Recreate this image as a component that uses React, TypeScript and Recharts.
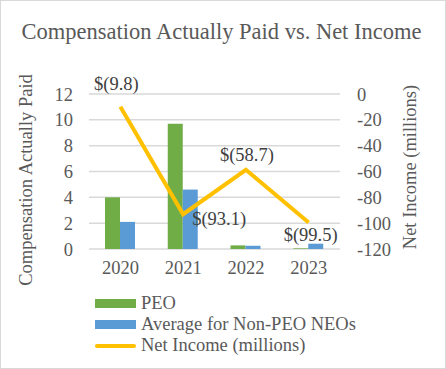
import { ComposedChart, Bar, Line, XAxis, YAxis, CartesianGrid, LabelList, Customized } from 'recharts'

// values
const years = ['2020', '2021', '2022', '2023']
const peo = [4.0, 9.7, 0.28, 0.05]
const nonPeo = [2.1, 4.6, 0.25, 0.41]
const netIncome = [-9.8, -93.1, -58.7, -99.5]
const leftTicks = [0, 2, 4, 6, 8, 10, 12]
const rightTicks = [-120, -100, -80, -60, -40, -20, 0]

// where each data label sits relative to its point
const LABEL_OFFSETS = [
  [-4, -23],
  [36, 5],
  [1, -15],
  [2, 12]
]

const GREEN = '#70AD47'
const BLUE = '#5B9BD5'
const GOLD = '#FFC000'
const TEXT = '#595959'
const FONT = '"Liberation Serif", "Times New Roman", serif'
const FS = 18.5

const data = years.map((year, i) => ({
  year,
  peo: peo[i],
  nonPeo: nonPeo[i],
  netIncome: netIncome[i]
}))

const fmtMoney = (v: number) => (v < 0 ? `$(${Math.abs(v).toFixed(1)})` : `$${v.toFixed(1)}`)

function NetIncomeLabel(props: any) {
  const { x, y, value, index } = props
  const [dx, dy] = LABEL_OFFSETS[index] || [0, -15]
  return (
    <text
      x={x + dx}
      y={y + dy}
      textAnchor="middle"
      dominantBaseline="central"
      fill="#404040"
      fontSize={FS}
      fontFamily={FONT}
    >
      {fmtMoney(value)}
    </text>
  )
}

function Titles() {
  return (
    <g fontFamily={FONT} fill={TEXT}>
      <text x={221.5} y={31} textAnchor="middle" dominantBaseline="central" fontSize={22.5}>
        Compensation Actually Paid vs. Net Income
      </text>
      <text
        x={26}
        y={180}
        textAnchor="middle"
        dominantBaseline="central"
        fontSize={FS}
        transform="rotate(-90 26 180)"
      >
        Compensation Actually Paid
      </text>
      <text
        x={410}
        y={167}
        textAnchor="middle"
        dominantBaseline="central"
        fontSize={FS}
        transform="rotate(-90 410 167)"
      >
        Net Income (millions)
      </text>
    </g>
  )
}

const legendItems = [
  { name: 'PEO', color: GREEN, kind: 'bar' },
  { name: 'Average for Non-PEO NEOs', color: BLUE, kind: 'bar' },
  { name: 'Net Income (millions)', color: GOLD, kind: 'line' }
]

function ChartLegend() {
  return (
    <div
      style={{
        position: 'absolute',
        left: 95,
        top: 293,
        fontFamily: FONT,
        fontSize: FS,
        color: TEXT,
        lineHeight: '21px'
      }}
    >
      {legendItems.map(item => (
        <div key={item.name} style={{ display: 'flex', alignItems: 'center', height: 21 }}>
          <span
            style={{
              display: 'inline-block',
              width: 41,
              height: item.kind === 'bar' ? 9 : 4,
              background: item.color,
              borderRadius: item.kind === 'line' ? 2 : 0,
              marginRight: 5
            }}
          />
          <span>{item.name}</span>
        </div>
      ))}
    </div>
  )
}

export default function App() {
  return (
    <div style={{ position: 'absolute', left: 0, top: 0, width: 446, height: 369, background: '#fff' }}>
      <ComposedChart
        width={446}
        height={369}
        data={data}
        margin={{ top: 94, right: 0, bottom: 90, left: 0 }}
        barGap={0}
      >
        <CartesianGrid yAxisId="left" vertical={false} stroke="#d9d9d9" strokeWidth={1.5} />
        <XAxis
          dataKey="year"
          axisLine={false}
          tickLine={false}
          tickSize={0}
          tickMargin={12}
          height={30}
          interval={0}
          tick={{ fill: TEXT, fontSize: FS, fontFamily: FONT }}
        />
        <YAxis
          yAxisId="left"
          orientation="left"
          width={89}
          domain={[0, 12]}
          ticks={leftTicks}
          interval={0}
          axisLine={false}
          tickLine={false}
          tickSize={0}
          tickMargin={16}
          tick={{ fill: TEXT, fontSize: FS, fontFamily: FONT }}
        />
        <YAxis
          yAxisId="right"
          orientation="right"
          width={106}
          domain={[-120, 0]}
          ticks={rightTicks}
          interval={0}
          axisLine={false}
          tickLine={false}
          tickSize={0}
          tickMargin={17}
          tick={{ fill: TEXT, fontSize: FS, fontFamily: FONT }}
        />
        <Bar yAxisId="left" dataKey="peo" name="PEO" fill={GREEN} barSize={15} isAnimationActive={false} />
        <Bar
          yAxisId="left"
          dataKey="nonPeo"
          name="Average for Non-PEO NEOs"
          fill={BLUE}
          barSize={15}
          isAnimationActive={false}
        />
        <Line
          yAxisId="right"
          type="linear"
          dataKey="netIncome"
          name="Net Income (millions)"
          stroke={GOLD}
          strokeWidth={4}
          dot={false}
          isAnimationActive={false}
        >
          <LabelList dataKey="netIncome" content={NetIncomeLabel} />
        </Line>
        <Customized component={Titles} />
      </ComposedChart>
      <ChartLegend />
      <div
        style={{
          position: 'absolute',
          inset: 0,
          border: '1px solid #d9d9d9',
          pointerEvents: 'none'
        }}
      />
    </div>
  )
}
